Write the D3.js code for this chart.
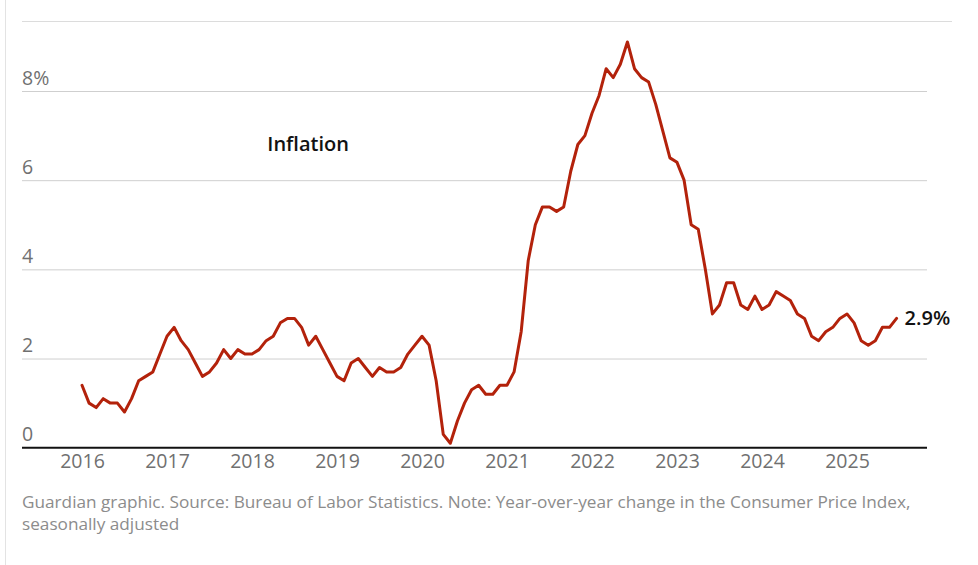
<!DOCTYPE html>
<html>
<head>
<meta charset="utf-8">
<script src="https://cdn.jsdelivr.net/npm/d3@7"></script>
<style>
  html, body { margin: 0; padding: 0; background: #fff; }
  svg { display: block; font-family: "Open Sans", "Noto Sans", sans-serif; }
</style>
</head>
<body>
<svg id="chart" width="978" height="565"></svg>
<script>
// ---- data (CPI, year-over-year % change, monthly from Jan 2016) ----
const startYear = 2016;
const inflation = [
  1.4, 1.0, 0.9, 1.1, 1.0, 1.0, 0.8, 1.1, 1.5, 1.6, 1.7, 2.1, // 2016
  2.5, 2.7, 2.4, 2.2, 1.9, 1.6, 1.7, 1.9, 2.2, 2.0, 2.2, 2.1, // 2017
  2.1, 2.2, 2.4, 2.5, 2.8, 2.9, 2.9, 2.7, 2.3, 2.5, 2.2, 1.9, // 2018
  1.6, 1.5, 1.9, 2.0, 1.8, 1.6, 1.8, 1.7, 1.7, 1.8, 2.1, 2.3, // 2019
  2.5, 2.3, 1.5, 0.3, 0.1, 0.6, 1.0, 1.3, 1.4, 1.2, 1.2, 1.4, // 2020
  1.4, 1.7, 2.6, 4.2, 5.0, 5.4, 5.4, 5.3, 5.4, 6.2, 6.8, 7.0, // 2021
  7.5, 7.9, 8.5, 8.3, 8.6, 9.1, 8.5, 8.3, 8.2, 7.7, 7.1, 6.5, // 2022
  6.4, 6.0, 5.0, 4.9, 4.0, 3.0, 3.2, 3.7, 3.7, 3.2, 3.1, 3.4, // 2023
  3.1, 3.2, 3.5, 3.4, 3.3, 3.0, 2.9, 2.5, 2.4, 2.6, 2.7, 2.9, // 2024
  3.0, 2.8, 2.4, 2.3, 2.4, 2.7, 2.7, 2.9                      // 2025
];
const yearTicks = [2016, 2017, 2018, 2019, 2020, 2021, 2022, 2023, 2024, 2025];
const yTicks = [0, 2, 4, 6, 8];
const yTickLabels = ["0", "2", "4", "6", "8%"];
const seriesLabel = "Inflation";
const endLabel = "2.9%";
const footerLines = [
  "Guardian graphic. Source: Bureau of Labor Statistics. Note: Year-over-year change in the Consumer Price Index,",
  "seasonally adjusted"
];

// ---- layout ----
const svg = d3.select("#chart");
const plotLeft = 22, plotRight = 927;

const x = d3.scaleLinear().domain([2016, 2025]).range([82, 847]);
const y = d3.scaleLinear().domain([0, 8]).range([447.7, 91]);

const points = inflation.map((v, i) => ({ t: startYear + i / 12, v }));

// left frame line
svg.append("line")
  .attr("x1", 5.5).attr("x2", 5.5).attr("y1", 0).attr("y2", 565)
  .attr("stroke", "#e3e3e3").attr("stroke-width", 1);

// top rule
svg.append("line")
  .attr("x1", plotLeft).attr("x2", 952).attr("y1", 21.5).attr("y2", 21.5)
  .attr("stroke", "#dcdcdc").attr("stroke-width", 1);

// horizontal grid + y labels
const yAxis = d3.axisLeft(y).tickValues(yTicks)
  .tickSize(-(plotRight - plotLeft))
  .tickFormat((d, i) => yTickLabels[i]);
const gy = svg.append("g").attr("transform", `translate(${plotLeft},0)`).call(yAxis);
gy.select(".domain").remove();
gy.selectAll(".tick line").attr("stroke", "#cfcfcf").attr("stroke-width", 1)
  .attr("x1", 0).attr("x2", plotRight - plotLeft);
gy.selectAll(".tick text")
  .attr("x", 0).attr("dy", -7).attr("dx", 0)
  .attr("text-anchor", "start")
  .attr("fill", "#707070")
  .style("font-size", "19.5px")
  .style("font-family", "'Open Sans', sans-serif");
gy.selectAll(".tick").filter(d => d === 0).select("line").remove();

// x axis
const xAxis = d3.axisBottom(x).tickValues(yearTicks).tickSize(0).tickFormat(d3.format("d"));
const gx = svg.append("g").attr("transform", `translate(0,${y(0)})`).call(xAxis);
gx.select(".domain").remove();
gx.selectAll(".tick text")
  .attr("y", 20.5).attr("dy", 0)
  .attr("fill", "#707070")
  .style("font-size", "19.5px")
  .style("font-family", "'Open Sans', sans-serif");

// baseline
svg.append("line")
  .attr("x1", plotLeft).attr("x2", plotRight).attr("y1", y(0)).attr("y2", y(0))
  .attr("stroke", "#121212").attr("stroke-width", 2);

// line
const line = d3.line().x(d => x(d.t)).y(d => y(d.v));
svg.append("path")
  .datum(points)
  .attr("d", line)
  .attr("fill", "none")
  .attr("stroke", "#b3220b")
  .attr("stroke-width", 3)
  .attr("stroke-linejoin", "round")
  .attr("stroke-linecap", "round");

// series label
svg.append("text")
  .attr("x", x(2018.18)).attr("y", y(6.65))
  .attr("fill", "#121212")
  .style("font-size", "20px").style("font-weight", "600")
  .style("font-family", "'Open Sans', sans-serif")
  .text(seriesLabel);

// end label
const last = points[points.length - 1];
svg.append("text")
  .attr("x", x(last.t) + 8).attr("y", y(last.v) + 6.5)
  .attr("fill", "#121212")
  .style("font-size", "20px").style("font-weight", "600")
  .style("font-family", "'Open Sans', sans-serif")
  .text(endLabel);

// footer
svg.selectAll("text.footer").data(footerLines).enter().append("text")
  .attr("class", "footer")
  .attr("x", plotLeft).attr("y", (d, i) => 508 + i * 21.5)
  .attr("fill", "#8c8c8c")
  .style("font-size", "17.2px")
  .style("font-family", "'Open Sans', sans-serif")
  .text(d => d);
</script>
</body>
</html>
